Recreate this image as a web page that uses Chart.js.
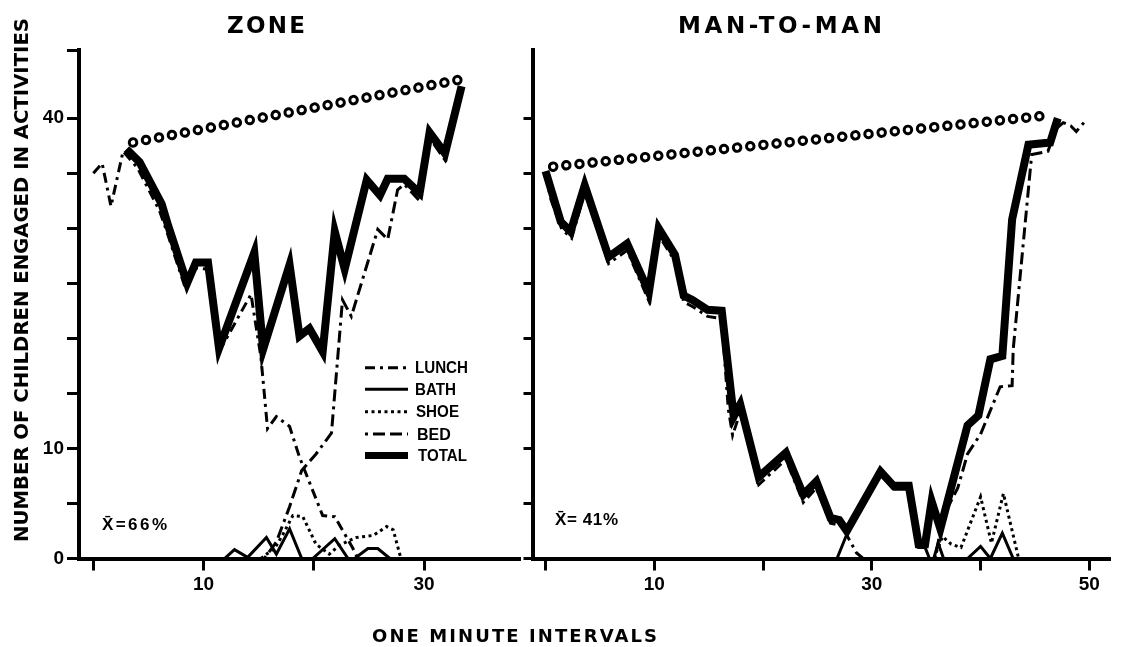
<!DOCTYPE html>
<html>
<head>
<meta charset="utf-8">
<title>Zone / Man-to-Man</title>
<script src="https://cdn.jsdelivr.net/npm/chart.js@4.4.1/dist/chart.umd.min.js"></script>
<style>
  html, body { margin: 0; padding: 0; background: #fff; }
  #wrap { position: relative; width: 1122px; height: 647px; overflow: hidden; background: #fff; }
  canvas, svg { position: absolute; left: 0; top: 0; }
  svg text { font-family: 'DejaVu Sans', sans-serif; font-weight: bold; fill: #000; }
  svg .small { font-family: 'Liberation Sans', sans-serif; font-size: 16px; }
</style>
</head>
<body>
<div id="wrap">
  <canvas id="zoneChart" width="1122" height="600"></canvas>
  <canvas id="manChart" width="1122" height="600"></canvas>
  <svg width="1122" height="647">
    <text x="227" y="33" font-size="23" textLength="78" lengthAdjust="spacing">ZONE</text>
    <text x="678" y="33" font-size="23" textLength="204" lengthAdjust="spacing">MAN-TO-MAN</text>
    <text transform="translate(28,542) rotate(-90)" font-size="20" textLength="524" lengthAdjust="spacingAndGlyphs">NUMBER OF CHILDREN ENGAGED IN ACTIVITIES</text>
    <text x="372" y="642" font-size="18" textLength="285" lengthAdjust="spacing">ONE MINUTE INTERVALS</text>

    <text class="small" x="102" y="530" style="font-size:17px" textLength="65" lengthAdjust="spacing">X̄=66%</text>
    <text class="small" x="555" y="525" style="font-size:17px" textLength="63" lengthAdjust="spacing">X̄= 41%</text>

    <g id="legend" stroke="#000" fill="none"></g>
    <text class="small" x="415" y="373" textLength="53" lengthAdjust="spacingAndGlyphs">LUNCH</text>
    <text class="small" x="415" y="395" textLength="41" lengthAdjust="spacingAndGlyphs">BATH</text>
    <text class="small" x="416" y="417" textLength="43" lengthAdjust="spacingAndGlyphs">SHOE</text>
    <text class="small" x="417" y="440">BED</text>
    <text class="small" x="418" y="461" textLength="49" lengthAdjust="spacingAndGlyphs">TOTAL</text>
  </svg>
</div>
<script>
// valores: [minuto, número de niños]

// ZONE
const zoneLunch = [[0, 35.0], [0.8, 35.9], [1.6, 32.0], [2.7, 37.0], [4.0, 35.5], [6.0, 31.6], [6.7, 29.6],
    [8.4, 24.4], [9.2, 26.4], [10.3, 26.3], [11.3, 18.6], [14.3, 24.0], [15.2, 18.3], [15.8, 11.8],
    [16.6, 12.9], [17.8, 12.0], [18.7, 9.2], [20.8, 3.9], [21.9, 3.8], [23.5, 1.0], [24.0, 0]];
const zoneBath = [[11.9, 0], [12.8, 0.8], [14.0, 0.1], [15.7, 1.9], [16.6, 0.4], [17.8, 2.7], [18.9, 0],
    [19.9, 0], [21.9, 1.8], [23.1, 0], [23.7, 0], [24.9, 0.9], [25.8, 0.9], [26.9, 0]];
const zoneShoe = [[15.2, 0], [16.5, 1.0], [17.2, 2.2], [18.1, 3.9], [19.0, 3.8], [20.2, 1.3], [21.4, 0.4],
    [22.3, 1.2], [23.8, 1.9], [25.4, 2.1], [26.6, 2.9], [27.2, 2.6], [27.9, 0]];
const zoneBed = [[15.5, 0], [16.6, 1.5], [17.8, 4.7], [18.9, 8.0], [20.2, 9.5], [21.6, 11.4], [22.6, 23.5],
    [23.4, 22.0], [25.8, 29.9], [26.7, 29.0], [27.6, 33.5], [28.2, 34.0], [29.6, 32.5], [30.5, 38.2],
    [31.9, 36.2], [33.4, 42.4]];
const zoneTotal = [[3.0, 37.2], [4.2, 36.0], [6.2, 32.2], [6.8, 30.2], [8.5, 25.0], [9.3, 26.9], [10.4, 26.9],
    [11.4, 19.1], [14.6, 27.8], [15.4, 19.0], [17.8, 26.7], [18.7, 20.2], [19.6, 20.9], [20.8, 18.8],
    [21.9, 29.7], [22.8, 26.3], [24.8, 34.4], [26.0, 33.0], [26.7, 34.5], [28.2, 34.5], [29.6, 33.2],
    [30.5, 38.7], [31.9, 36.8], [33.4, 42.9]];
const zonePresent = [[3.6, 37.8], [33.2, 43.5]];

// MAN-TO-MAN
const manLunch = [[0, 34.8], [0.5, 32.6], [1.5, 29.9], [2.4, 29.1], [3.6, 33.3], [5.8, 26.8], [7.5, 28.0],
    [9.5, 23.4], [10.4, 29.4], [11.9, 27.0], [12.7, 23.3], [13.5, 22.9], [14.9, 22.0], [16.2, 21.8],
    [16.8, 13.6], [17.2, 11.2], [17.9, 13.3], [19.6, 6.7], [22.1, 9.0], [23.7, 5.1], [24.9, 6.4],
    [26.2, 3.2], [27.2, 3.0], [28.6, 0.5], [29.2, 0]];
const manBath = [[26.8, 0], [27.7, 2.2], [30.8, 7.6], [32.0, 6.3], [33.4, 6.3], [34.3, 1.0], [34.9, 1.0],
    [35.3, 0], [35.7, 0], [36.1, 1.4], [36.6, 0], [38.8, 0], [40.0, 1.1], [40.9, 0], [42.0, 2.3], [43.0, 0]];
const manShoe = [[35.7, 0], [36.5, 2.0], [37.3, 1.3], [38.2, 1.0], [40.0, 5.6], [41.0, 1.4], [42.1, 5.9], [43.5, 0]];
const manBed = [[35.8, 0], [36.6, 3.9], [37.9, 6.4], [38.8, 9.5], [40.0, 11.3], [41.8, 15.6], [42.9, 15.7],
    [43.0, 19.0], [44.7, 36.7], [46.2, 37.0], [46.9, 39.0], [47.6, 39.6], [48.3, 39.3], [48.8, 38.8], [49.5, 39.6]];
const manTotal = [[0, 35.2], [1.4, 30.6], [2.3, 29.7], [3.6, 33.9], [5.8, 27.4], [7.5, 28.6], [9.5, 24.2],
    [10.4, 30.0], [11.9, 27.6], [12.7, 23.9], [13.5, 23.5], [14.9, 22.6], [16.2, 22.5], [17.3, 12.9],
    [17.9, 14.0], [19.6, 7.4], [22.1, 9.6], [23.7, 5.8], [24.9, 7.0], [26.2, 3.7], [27.0, 3.5], [27.7, 2.5],
    [30.8, 7.9], [32.0, 6.6], [33.4, 6.6], [34.3, 1.3], [34.9, 1.3], [35.5, 5.2], [36.3, 2.7], [38.8, 12.1],
    [39.8, 13.0], [40.9, 18.1], [42.0, 18.4], [42.9, 30.8], [44.4, 37.6], [46.4, 37.8], [47.1, 40.0]];
const manPresent = [[0.7, 35.6], [46.6, 40.3]];

// ejes
const zoneXTicks = [0, 10, 20, 30];
const zoneXLabels = [10, 30];
const manXTicks = [0, 10, 20, 30, 40, 50];
const manXLabels = [10, 30, 50];
const yTicks = [0, 5, 10, 15, 20, 25, 30, 35, 40];
const zoneYLabels = [0, 10, 40];
const yMax = 46.2;

const ink = '#000';
const tickFont = { family: 'Liberation Sans', weight: 'bold', size: 19 };

// estilos de línea (como en la leyenda)
const lineStyles = {
    lunch: { width: 3, dash: [10, 5, 3, 5] },
    bath:  { width: 3, dash: [] },
    shoe:  { width: 3, dash: [3, 3.5] },
    bed:   { width: 3, dash: [3, 5, 12, 5, 12, 5] },
    total: { width: 8, dash: [] }
};

function toPoints(pairs) {
    return pairs.map(([x, y]) => ({ x: x, y: y }));
}

function lineSet(pairs, style, order) {
    return {
        data: toPoints(pairs),
        borderColor: ink,
        borderWidth: style.width,
        borderDash: style.dash,
        borderJoinStyle: 'miter',
        pointRadius: 0,
        tension: 0,
        fill: false,
        order: order
    };
}

// línea de círculos huecos: puntos negros con un punto blanco encima
function ringSets(pairs) {
    const base = { borderDash: [0.01, 13.2], borderCapStyle: 'round', pointRadius: 0, fill: false };
    return [
        Object.assign({}, base, { data: toPoints(pairs), borderColor: '#fff', borderWidth: 4.6, order: 0 }),
        Object.assign({}, base, { data: toPoints(pairs), borderColor: ink, borderWidth: 10.5, order: 1 })
    ];
}

function panelSets(lunch, bath, shoe, bed, total, present) {
    return ringSets(present).concat([
        lineSet(total, lineStyles.total, 2),
        lineSet(lunch, lineStyles.lunch, 3),
        lineSet(bath, lineStyles.bath, 3),
        lineSet(shoe, lineStyles.shoe, 3),
        lineSet(bed, lineStyles.bed, 3)
    ]);
}

function createPanel(id, datasets, cfg) {
    const ctx = document.getElementById(id).getContext('2d');
    return new Chart(ctx, {
        type: 'line',
        data: { datasets: datasets },
        options: {
            responsive: false,
            animation: false,
            layout: { padding: cfg.padding, autoPadding: false },
            plugins: {
                legend: { display: false },
                tooltip: { enabled: false }
            },
            scales: {
                x: {
                    type: 'linear',
                    min: cfg.xMin,
                    max: cfg.xMax,
                    afterBuildTicks: function(scale) {
                        scale.ticks = cfg.xTicks.map(v => ({ value: v }));
                    },
                    afterFit: function(scale) { scale.height = 41.5; },
                    ticks: {
                        autoSkip: false,
                        maxRotation: 0,
                        padding: 3,
                        color: ink,
                        font: tickFont,
                        callback: function(value) {
                            return cfg.xLabels.includes(value) ? String(value) : '';
                        }
                    },
                    grid: { drawOnChartArea: false, tickLength: 12, tickWidth: 3, tickColor: ink },
                    border: { color: ink, width: 4 }
                },
                y: {
                    min: 0,
                    max: yMax,
                    afterBuildTicks: function(scale) {
                        scale.ticks = cfg.yTicks.map(v => ({ value: v }));
                    },
                    afterFit: function(scale) { scale.width = cfg.yWidth; },
                    ticks: {
                        autoSkip: false,
                        padding: 3,
                        color: ink,
                        font: tickFont,
                        callback: function(value) {
                            return cfg.yLabels.includes(value) ? String(value) : '';
                        }
                    },
                    grid: { drawOnChartArea: false, tickLength: cfg.yTickLength, tickWidth: 3, tickColor: ink },
                    border: { color: ink, width: 4 }
                }
            }
        }
    });
}

function drawLegend() {
    const g = document.getElementById('legend');
    const rows = [
        ['lunch', 367.7], ['bath', 389.3], ['shoe', 411.7], ['bed', 434], ['total', 455.5]
    ];
    rows.forEach(([key, y]) => {
        const st = lineStyles[key];
        const line = document.createElementNS('http://www.w3.org/2000/svg', 'line');
        line.setAttribute('x1', 365);
        line.setAttribute('x2', 408);
        line.setAttribute('y1', y);
        line.setAttribute('y2', y);
        line.setAttribute('stroke-width', key === 'total' ? 7 : st.width);
        if (st.dash.length) line.setAttribute('stroke-dasharray', st.dash.join(' '));
        g.appendChild(line);
    });
}

const zoneChart = createPanel('zoneChart',
    panelSets(zoneLunch, zoneBath, zoneShoe, zoneBed, zoneTotal, zonePresent), {
        padding: { left: 0, right: 602, top: 50, bottom: 0 },
        xMin: -1.3, xMax: 38.7,
        xTicks: zoneXTicks, xLabels: zoneXLabels,
        yTicks: yTicks.concat([yMax]), yLabels: zoneYLabels,
        yWidth: 79, yTickLength: 12
    });

const manChart = createPanel('manChart',
    panelSets(manLunch, manBath, manShoe, manBed, manTotal, manPresent), {
        padding: { left: 520, right: 12, top: 50, bottom: 0 },
        xMin: -1.2, xMax: 51.9,
        xTicks: manXTicks, xLabels: manXLabels,
        yTicks: yTicks, yLabels: [],
        yWidth: 12.5, yTickLength: 9
    });

drawLegend();
</script>
</body>
</html>
